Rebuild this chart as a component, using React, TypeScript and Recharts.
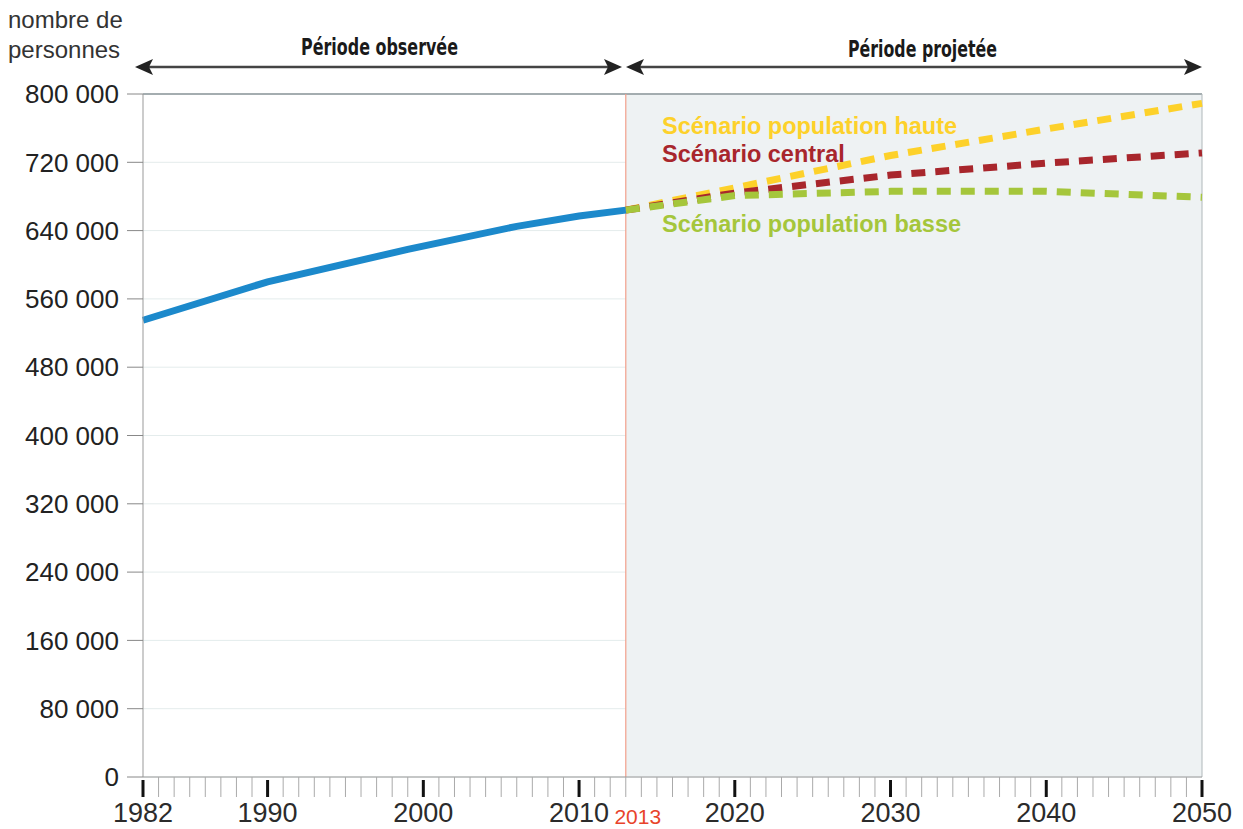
import React from "react";
import {
  LineChart,
  Line,
  XAxis,
  YAxis,
  CartesianGrid,
  ReferenceArea,
  ReferenceLine,
} from "recharts";

const observedYears = [1982, 1990, 1999, 2006, 2010, 2013];
const observedValues = [535000, 580000, 618000, 645000, 657000, 664000];

const projYears = [2013, 2020, 2030, 2040, 2050];
const hauteValues = [664000, 690000, 728000, 759000, 789000];
const centralValues = [664000, 684000, 705000, 719000, 731000];
const basseValues = [664000, 681000, 686000, 686000, 679000];

const yTicks = [0, 80000, 160000, 240000, 320000, 400000, 480000, 560000, 640000, 720000, 800000];
const majorYears = [1982, 1990, 2000, 2010, 2020, 2030, 2040, 2050];
const allYears = Array.from({ length: 2050 - 1982 + 1 }, (_, i) => 1982 + i);

const observed = observedYears.map((year, i) => ({ year, value: observedValues[i] }));
const haute = projYears.map((year, i) => ({ year, value: hauteValues[i] }));
const central = projYears.map((year, i) => ({ year, value: centralValues[i] }));
const basse = projYears.map((year, i) => ({ year, value: basseValues[i] }));

const FONT = "'Liberation Sans', Arial, sans-serif";
const HEAD_FONT = "'DejaVu Sans Condensed', 'DejaVu Sans', sans-serif";

const fmt = (v: number) => (v === 0 ? "0" : v.toLocaleString("en-US").replace(/,/g, " "));

function YearTick({ x, y, payload }: any) {
  const v = payload.value as number;
  const major = majorYears.includes(v);
  return (
    <g>
      {major ? (
        <line x1={x} x2={x} y1={y + 3} y2={y + 20} stroke="#111" strokeWidth={3} />
      ) : (
        <line x1={x} x2={x} y1={y} y2={y + 20} stroke="#aaa" strokeWidth={1} />
      )}
      {major && (
        <text x={x} y={y + 45} textAnchor="middle" fontSize={27} fill="#2b2b2b" fontFamily={FONT}>
          {v}
        </text>
      )}
      {v === 2013 && (
        <text x={x + 12} y={y + 47} textAnchor="middle" fontSize={21} fill="#e8432a" fontFamily={FONT}>
          {v}
        </text>
      )}
    </g>
  );
}

function Arrow({ x1, x2, y }: { x1: number; x2: number; y: number }) {
  return (
    <g>
      <line x1={x1 + 10} x2={x2 - 10} y1={y} y2={y} stroke="#444" strokeWidth={2.5} />
      <polygon points={`${x1},${y} ${x1 + 18},${y - 8} ${x1 + 14},${y} ${x1 + 18},${y + 8}`} fill="#222" />
      <polygon points={`${x2},${y} ${x2 - 18},${y - 8} ${x2 - 14},${y} ${x2 - 18},${y + 8}`} fill="#222" />
    </g>
  );
}

export default function App() {
  return (
    <div style={{ position: "absolute", left: 0, top: 0, width: 1243, height: 829, background: "#fff" }}>
      <LineChart width={1243} height={829} margin={{ top: 94, right: 41, left: 0, bottom: 0 }}>
        <ReferenceArea x1={2013} x2={2050} y1={0} y2={800000} fill="#eef2f3" fillOpacity={1} stroke="none" />
        <CartesianGrid vertical={false} stroke="#e4ecec" strokeWidth={1} />
        <XAxis
          dataKey="year"
          type="number"
          domain={[1982, 2050]}
          ticks={allYears}
          interval={0}
          tick={<YearTick />}
          tickLine={false}
          tickSize={0}
          tickMargin={0}
          axisLine={{ stroke: "#999", strokeWidth: 1 }}
          height={52}
          allowDuplicatedCategory={false}
        />
        <YAxis
          type="number"
          domain={[0, 800000]}
          ticks={yTicks}
          tickFormatter={fmt}
          width={143}
          tickSize={16}
          tickMargin={8}
          tickLine={{ stroke: "#888" }}
          axisLine={{ stroke: "#999" }}
          tick={{ fontSize: 26, fill: "#222", fontFamily: FONT }}
        />
        <ReferenceLine y={800000} stroke="#8a9599" strokeWidth={1.5} />
        <ReferenceLine x={2050} stroke="#b0b8ba" strokeWidth={1} />
        <ReferenceLine x={2013} stroke="#f2a08c" strokeWidth={1.2} />
        <Line
          data={haute}
          dataKey="value"
          stroke="#fdd12a"
          strokeWidth={7}
          strokeDasharray="14 10"
          dot={false}
          isAnimationActive={false}
        />
        <Line
          data={central}
          dataKey="value"
          stroke="#a8262c"
          strokeWidth={7}
          strokeDasharray="14 10"
          dot={false}
          isAnimationActive={false}
        />
        <Line
          data={basse}
          dataKey="value"
          stroke="#a5c63b"
          strokeWidth={7}
          strokeDasharray="14 10"
          dot={false}
          isAnimationActive={false}
        />
        <Line
          data={observed}
          dataKey="value"
          stroke="#1c89cb"
          strokeWidth={7}
          dot={false}
          isAnimationActive={false}
        />
      </LineChart>
      <svg
        width={1243}
        height={829}
        style={{ position: "absolute", left: 0, top: 0, pointerEvents: "none" }}
      >
        <text x={8} y={28} fontSize={24} fill="#333" fontFamily={FONT}>nombre de</text>
        <text x={8} y={58} fontSize={24} fill="#333" fontFamily={FONT}>personnes</text>
        <text x={301} y={55} fontSize={23} fontWeight="bold" fill="#1a1a1a" fontFamily={HEAD_FONT}
          textLength={157} lengthAdjust="spacingAndGlyphs">
          Période observée
        </text>
        <text x={848} y={57} fontSize={23} fontWeight="bold" fill="#1a1a1a" fontFamily={HEAD_FONT}
          textLength={149} lengthAdjust="spacingAndGlyphs">
          Période projetée
        </text>
        <Arrow x1={135} x2={622} y={67} />
        <Arrow x1={626} x2={1202} y={67} />
        <text x={662} y={134} fontSize={23.5} fontWeight="bold" fill="#fdd12a" fontFamily={FONT}>
          Scénario population haute
        </text>
        <text x={662} y={162} fontSize={23.5} fontWeight="bold" fill="#a8262c" fontFamily={FONT}>
          Scénario central
        </text>
        <text x={662} y={232} fontSize={23.5} fontWeight="bold" fill="#a5c63b" fontFamily={FONT}>
          Scénario population basse
        </text>
      </svg>
    </div>
  );
}
